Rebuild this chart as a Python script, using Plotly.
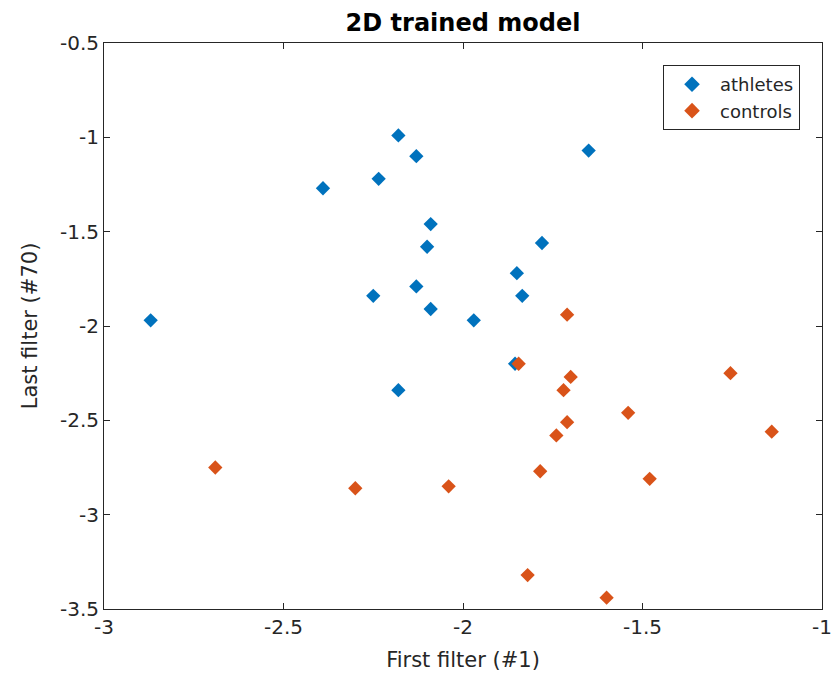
import plotly.graph_objects as go

ath_x = [-2.87, -2.39, -2.235, -2.18, -2.13, -2.09, -2.10, -2.25, -2.13, -2.09, -1.97, -2.18, -1.85, -1.835, -1.78, -1.65, -1.855]
ath_y = [-1.97, -1.27, -1.22, -0.99, -1.10, -1.46, -1.58, -1.84, -1.79, -1.91, -1.97, -2.34, -1.72, -1.84, -1.56, -1.07, -2.20]

ctl_x = [-2.69, -2.30, -2.04, -1.845, -1.71, -1.70, -1.72, -1.71, -1.74, -1.785, -1.54, -1.48, -1.255, -1.14, -1.82, -1.60]
ctl_y = [-2.75, -2.86, -2.85, -2.20, -1.94, -2.27, -2.34, -2.51, -2.58, -2.77, -2.46, -2.81, -2.25, -2.56, -3.32, -3.44]

x_ticks = [-3, -2.5, -2, -1.5, -1]
y_ticks = [-0.5, -1, -1.5, -2, -2.5, -3, -3.5]

font_family = "DejaVu Sans"
axis_color = "#262626"

fig = go.Figure()
fig.add_trace(go.Scatter(x=ath_x, y=ath_y, mode="markers", name="athletes",
                         marker=dict(symbol="diamond", size=11, color="#0072BD")))
fig.add_trace(go.Scatter(x=ctl_x, y=ctl_y, mode="markers", name="controls",
                         marker=dict(symbol="diamond", size=11, color="#D95319")))

axis_common = dict(showgrid=False, zeroline=False, showline=True, linecolor=axis_color,
                   linewidth=1, mirror="ticks", ticks="inside", ticklen=6, tickcolor=axis_color,
                   automargin=False,
                   tickfont=dict(family=font_family, size=20, color=axis_color))

fig.update_layout(
    width=834, height=677,
    margin=dict(l=104, r=12, t=43, b=68),
    paper_bgcolor="white", plot_bgcolor="white",
    title=dict(text="<b>2D trained model</b>", x=0.5, xanchor="center",
               xref="paper", y=1, yref="paper", yanchor="bottom", pad=dict(b=12),
               font=dict(family=font_family, size=24, color="black")),
    xaxis=dict(range=[-3, -1], tickvals=x_ticks, ticktext=[str(v) for v in x_ticks],
               title=dict(text="First filter (#1)", font=dict(family=font_family, size=21, color=axis_color), standoff=14),
               **axis_common),
    yaxis=dict(range=[-3.5, -0.5], tickvals=y_ticks, ticktext=[str(v) for v in y_ticks],
               title=dict(text="Last filter (#70)", font=dict(family=font_family, size=21, color=axis_color), standoff=16),
               **axis_common),
    legend=dict(x=0.9694, y=0.961, xanchor="right", yanchor="top",
                bordercolor=axis_color, borderwidth=1, bgcolor="white",
                font=dict(family=font_family, size=18, color=axis_color),
                tracegroupgap=0, itemsizing="constant", itemwidth=46),
    showlegend=True,
)

fig.write_html("out.html")
